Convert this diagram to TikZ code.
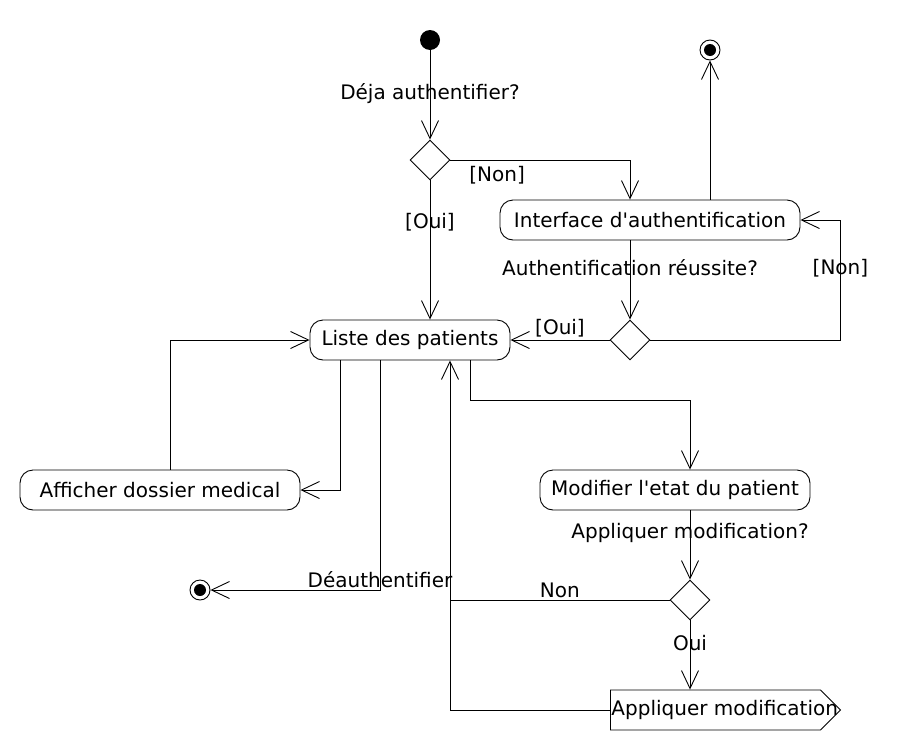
\documentclass[tikz,border=0pt]{standalone}
\usepackage{fontspec}
\setmainfont{DejaVu Sans}
\usetikzlibrary{arrows.meta,shapes.geometric,shapes.symbols}
\begin{document}
\begin{tikzpicture}[x=1pt,y=-1pt,line width=0.9pt,font=\fontsize{20}{24}\selectfont,
  act/.style={draw,rounded corners=13pt,minimum height=40pt,inner sep=0pt},
  dec/.style={draw,diamond,minimum width=40pt,minimum height=40pt,inner sep=0pt},
  sig/.style={draw,signal,signal to=east,signal pointer angle=90,minimum height=40pt,inner xsep=1pt,inner ysep=0pt},
  final/.style={circle,draw,fill=white,minimum size=20pt,inner sep=0pt,path picture={\fill[black] (path picture bounding box.center) circle (6pt);}},
  flow/.style={-{Straight Barb[length=18pt,width=17pt]}},
  lbl/.style={inner sep=2pt}]
\useasboundingbox (0,0) rectangle (910,750);
\node[circle,fill,minimum size=20pt,inner sep=0pt] (start) at (430,40) {};
\node[final] (endauth) at (710,50) {};
\node[final] (endout) at (200,590) {};
\node[dec] (d1) at (430,160) {};
\node[act,minimum width=300pt] (auth) at (650,220) {Interface d\textquotesingle authentification};
\node[dec] (d2) at (630,340) {};
\node[act,minimum width=200pt] (liste) at (410,340) {Liste des patients};
\node[act,minimum width=280pt] (dossier) at (160,490) {Afficher dossier medical};
\node[act,minimum width=270pt] (modif) at (675,490) {Modifier l\textquotesingle etat du patient};
\node[dec] (d3) at (690,600) {};
\node[sig,anchor=west] (apply) at (610,710) {\makebox[208pt][l]{Appliquer modification}};
\coordinate (join) at (450,600);
\draw[flow] (start) -- node[lbl,pos=0.48]{Déja authentifier?} (d1);
\draw[flow] (d1.east) -| node[lbl,pos=0.13,below,yshift=-4pt]{[Non]} (auth.north -| d2);
\draw[flow] (d1.south) -- node[lbl,pos=0.3]{[Oui]} (liste.north -| d1);
\draw[flow] (endauth |- auth.north) -- (endauth);
\draw[flow] (auth.south -| d2) -- node[lbl,pos=0.35]{Authentification réussite?} (d2);
\draw[flow] (d2.east) -- ++(190,0) |- node[lbl,pos=0.3]{[Non]} (auth.east);
\draw[flow] (d2) -- node[lbl,above]{[Oui]} (liste);
\draw[flow] ([xshift=-70pt]liste.south) |- (dossier.east);
\draw[flow] ([xshift=10pt]dossier.north) |- (liste.west);
\draw[flow] ([xshift=-30pt]liste.south) |- node[lbl,pos=0.5,above]{Déauthentifier} (endout);
\draw[flow] ([xshift=60pt]liste.south) -- ++(0,40) -| (modif.north -| d3);
\draw[flow] (modif.south -| d3) -- node[lbl,pos=0.33]{Appliquer modification?} (d3);
\draw[flow] (d3.west) -- node[lbl,above]{Non} (join) -- ([xshift=40pt]liste.south);
\draw[flow] (d3.south) -- node[lbl,pos=0.33]{Oui} (apply.north -| d3);
\draw (apply.west) -| (join);
\end{tikzpicture}
\end{document}
